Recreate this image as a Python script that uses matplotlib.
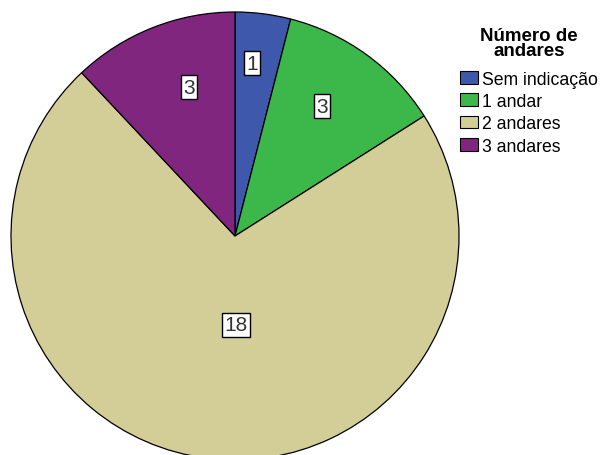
import matplotlib
matplotlib.use("Agg")
import matplotlib.pyplot as plt
import numpy as np

categories = ["Sem indicação", "1 andar", "2 andares", "3 andares"]
values = [1, 3, 18, 3]
legend_title = "Número de\nandares"

colors = ["#3e58ac", "#3cb84a", "#d3ce97", "#80267f"]
label_dist = [0.776, 0.698, 0.397, 0.696]
label_angle_offset = [1.6, 2.2, 7.8, -4.4]

plt.rcParams['font.family'] = ['Liberation Sans', 'DejaVu Sans']
fig = plt.figure(figsize=(6.03, 4.56), dpi=100)
R = 224
cx, cy = 235, 237
W, H = 603, 456
ax = fig.add_axes([(cx - R) / W, (H - cy - R) / H, 2 * R / W, 2 * R / H])
wedges, _ = ax.pie(values, colors=colors, startangle=90, counterclock=False,
                   wedgeprops=dict(edgecolor="black", linewidth=0.9))
ax.set_xlim(-1, 1)
ax.set_ylim(-1, 1)
ax.set_aspect("equal")
ax.axis("off")

for w, v, d, off in zip(wedges, values, label_dist, label_angle_offset):
    ang = np.deg2rad((w.theta1 + w.theta2) / 2 + off)
    ax.text(d * np.cos(ang), d * np.sin(ang), str(v), ha="center", va="center",
            fontsize=15, color="#333333",
            bbox=dict(boxstyle="square,pad=0.12", fc="white", ec="black", lw=1.0))

leg = fig.legend(wedges, categories, title=legend_title, loc="upper left",
                 bbox_to_anchor=(448 / W, 1 - 16 / H), frameon=False,
                 fontsize=12.7, handlelength=1.0, handleheight=0.72,
                 handletextpad=0.22, labelspacing=0.3, borderpad=0.2,
                 title_fontproperties=dict(weight="bold", size=13.5))
leg._legend_box.align = "center"
leg._legend_box.sep = 8.1
leg.get_title().set_multialignment("center")
leg.get_title().set_linespacing(0.85)
for h in leg.legend_handles:
    h.set_edgecolor("black")
    h.set_linewidth(0.8)

fig.savefig("out.png", dpi=100)
